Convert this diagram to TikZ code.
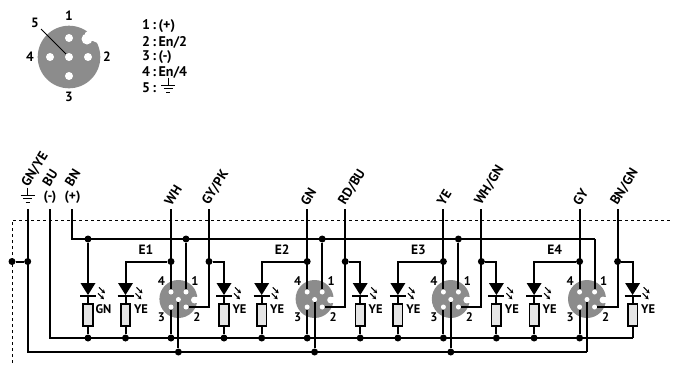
\documentclass[tikz,border=0pt]{standalone}
\usepackage{fontspec}
\setmainfont{PT Sans}
\usetikzlibrary{arrows.meta}
\tikzset{
 x=1pt,y=-1pt,
 wire/.style={line width=2pt,draw=black,line cap=butt,line join=miter},
 dot/.style={circle,fill=black,inner sep=0pt,minimum size=7pt},
 pin/.style={circle,fill=white,inner sep=0pt,minimum size=5pt},
 bigpin/.style={circle,fill=white,inner sep=0pt,minimum size=8pt},
 txt/.style={font=\fontsize{13.5}{15}\selectfont\bfseries,inner sep=0pt},
 legend/.style={font=\fontsize{14}{16}\selectfont\bfseries,inner sep=0pt,anchor=west},
 smalltxt/.style={font=\fontsize{12.5}{14}\selectfont\bfseries,inner sep=0pt},
 wlab/.style={txt,rotate=58,anchor=west},
 res/.style={draw=black,line width=1.6pt,fill=black!10,minimum width=9.5pt,minimum height=22.5pt,inner sep=0pt},
 diode/.style={fill=black},
 glow/.style={line width=1.1pt,-{Stealth[length=3.8pt,width=4.2pt]}},
}
\newcommand{\gnd}[2]{%
 \draw[line width=1pt] (#1,#2-7.5) -- (#1,#2);
 \draw[line width=1pt] (#1-7,#2) -- (#1+7,#2) (#1-4.5,#2+3.6) -- (#1+4.5,#2+3.6) (#1-2,#2+7) -- (#1+2,#2+7);}
\newcommand{\ledunit}[4]{% name, x, label, top y
 \coordinate (#1top) at (#2,283);
 \fill[diode] (#2-7.5,283) -- (#2+7.5,283) -- (#2,295) -- cycle;
 \draw[line width=1.8pt] (#2-8,295.6) -- (#2+8,295.6);
 \draw[wire] (#2,295) -- (#2,304);
 \node[res] (#1r) at (#2,315) {};
 \draw[glow] (#2+11,287.3) -- (#2+17,293.3);
 \draw[glow] (#2+10,293.3) -- (#2+16,299.3);
 \node[smalltxt] at (#2+15.5,309) {#3};}
\begin{document}
\begin{tikzpicture}
\useasboundingbox (0,0) rectangle (673,365);
% top connector
\fill[black!45] (69,57) circle (31.3);
\fill[white] (87,39) circle (5.5);
\fill[white] (87,39) -- (85,33) -- (96,25) -- (100,44) -- (93,41) -- cycle;
\node[bigpin] (p1) at (69,38) {};
\node[bigpin] (p2) at (88,57) {};
\node[bigpin] (p3) at (69,76) {};
\node[bigpin] (p4) at (50,57) {};
\node[bigpin] (p5) at (69,57) {};
\coordinate (p5l) at (41,29);
\draw[line width=.8pt] (p5l) -- (p5);
\node[txt] at (69,16) {1};
\node[txt] at (35,23) {5};
\node[txt] at (30,57) {4};
\node[txt] at (107,57) {2};
\node[txt] at (69,97) {3};
\node[legend] at (142,26) {1\,:\,(+)};
\node[legend] at (142,42) {2\,:\,En/2};
\node[legend] at (142,57) {3\,:\,(-)};
\node[legend] at (142,72) {4\,:\,En/4};
\node[legend] at (142,88) {5\,:};
\gnd{168}{85}
% dashed box
\coordinate (dl) at (12,363);
\coordinate (dc) at (12,220);
\coordinate (dr) at (673,220);
\draw[line width=1pt,dash pattern=on 3pt off 3pt] (dl) -- (dc) -- (dr);
% terminals
\gnd{27.7}{195}
\node[txt] at (50,197) {(-)};
\node[txt] at (72.5,197) {(+)};
\node[wlab] at (25,186) {GN/YE};
\node[wlab] at (45.5,185) {BU};
\node[wlab] at (68,185) {BN};
% rails
\coordinate (gt) at (27.7,209);
\coordinate (bt) at (50,209);
\coordinate (nt) at (72.3,209);
\coordinate (gend) at (587,352);
\coordinate (bend) at (632.7,338);
\coordinate (nend) at (595,239);
\draw[wire] (gt) -- (27.7,352) -- (gend);
\draw[wire] (bt) -- (50,338) -- (bend);
\draw[wire] (nt) -- (72.3,239) -- (nend);
\node[dot] (g0) at (12,261.5) {};
\node[dot] (g1) at (27.7,261.5) {};
\draw[wire] (g0) -- (g1);
% GN LED
\node[dot] (gnu) at (88,239) {};
\node[dot] (gnd0) at (88,338) {};
\draw[wire] (gnu) -- (88,285);
\ledunit{gn}{88}{GN}{}
\draw[wire] (gnr) -- (gnd0);
% modules
\foreach \k/\lbl/\cola/\colb in {0/E1/WH/GY\slash PK,1/E2/GN/RD\slash BU,2/E3/YE/WH\slash GN,3/E4/GY/BN\slash GN}{
 \pgfmathsetmacro{\xa}{125.5+136.2*\k}
 \pgfmathsetmacro{\xb}{171+136.2*\k}
 \pgfmathsetmacro{\xc}{178.4+136.2*\k}
 \pgfmathsetmacro{\xd}{186+136.2*\k}
 \pgfmathsetmacro{\xe}{209+136.2*\k}
 \pgfmathsetmacro{\xf}{224+136.2*\k}
 \fill[black!45] (\xc,299) circle (19);
 \fill[white] (\xc+16,300) circle (3.4);
 \fill[white] (\xc+16,296.6) rectangle (\xc+21,303.4);
 \node[dot] (jl\k) at (\xb,261.5) {};
 \node[dot] (jr\k) at (\xe,261.5) {};
 \node[dot] (bu\k) at (\xb,338) {};
 \node[dot] (ba\k) at (\xa,338) {};
 \node[pin] (a\k) at (\xd,292) {};
 \node[pin] (b\k) at (\xd,307) {};
 \node[pin] (c\k) at (\xb,307) {};
 \node[pin] (d\k) at (\xb,292) {};
 \node[pin] (e\k) at (\xc,299.5) {};
 \coordinate (topl\k) at (\xb,209);
 \coordinate (topr\k) at (\xe,209);
 \draw[wire] (topl\k) -- (d\k.north);
 \draw[wire] (c\k.south) -- (bu\k);
 \draw[wire] (jl\k) -- (\xa,261.5) -- (\xa,285);
 \draw[wire] (topr\k) -- (\xe,307) -- (b\k.east);
 \draw[wire] (jr\k) -- (\xf,261.5) -- (\xf,285);
 \ledunit{la\k}{\xa}{YE}{}
 \ledunit{lb\k}{\xf}{YE}{}
 \draw[wire] (la\k r) -- (ba\k);
 \ifnum\k<3
  \node[dot] (tp\k) at (\xd,239) {};
  \node[dot] (ge\k) at (\xc,352) {};
  \node[dot] (bb\k) at (\xf,338) {};
 \else
  \coordinate (tp\k) at (\xd,239);
  \coordinate (ge\k) at (\xc,352);
  \coordinate (bb\k) at (\xf,338);
 \fi
 \draw[wire] (a\k.north) -- (tp\k);
 \draw[wire] (e\k.south) -- (ge\k);
 \draw[wire] (lb\k r) -- (bb\k);
 \node[txt] at (\xa+20.5,250) {\lbl};
 \node[smalltxt] at (\xb-9.5,281.5) {4};
 \node[smalltxt] at (\xd+9,281.5) {1};
 \node[smalltxt] at (\xb-9.5,317) {3};
 \node[smalltxt] at (\xd+11,317) {2};
 \node[wlab] at (\xb-3.5,204) {\cola};
 \node[wlab] at (\xe-3.5,204) {\colb};
}
\end{tikzpicture}
\end{document}
